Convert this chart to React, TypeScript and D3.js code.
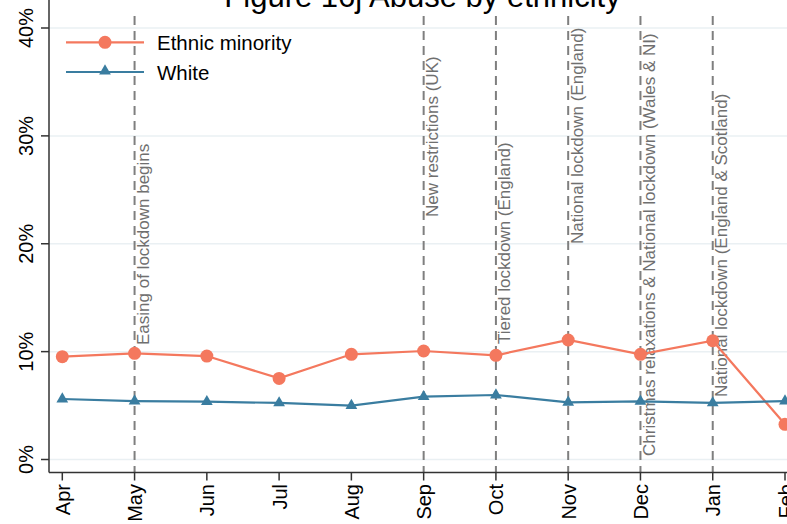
import React from "react";
import * as d3 from "d3";

const months = ["Apr", "May", "Jun", "Jul", "Aug", "Sep", "Oct", "Nov", "Dec", "Jan", "Feb"];
const ethnicMinority = [9.53, 9.84, 9.59, 7.52, 9.75, 10.06, 9.66, 11.08, 9.75, 11.01, 3.26];
const white = [5.61, 5.42, 5.36, 5.24, 4.99, 5.82, 5.98, 5.3, 5.39, 5.24, 5.42];
const yTicks = [0, 10, 20, 30, 40];
const events = [
  { month: "May", label: "Easing of lockdown begins" },
  { month: "Sep", label: "New restrictions (UK)" },
  { month: "Oct", label: "Tiered lockdown (England)" },
  { month: "Nov", label: "National lockdown (England)" },
  { month: "Dec", label: "Christmas relaxations & National lockdown (Wales & NI)" },
  { month: "Jan", label: "National lockdown (England & Scotland)" },
];
const eventBottoms = [345, 217, 344, 244, 456, 397];

const W = 787;
const H = 524;
const ORANGE = "#F4785E";
const BLUE = "#3A7DA0";
const FONT = "Liberation Sans, Arial, sans-serif";

export default function App() {
  const x = d3.scalePoint<string>().domain(months).range([62.3, 785]);
  const y = d3.scaleLinear().domain([0, 40]).range([459.5, 28]);
  const line = d3
    .line<number>()
    .x((_, i) => x(months[i]) as number)
    .y((d) => y(d));
  const axisY = 472.5;
  const axisX = 49;
  const tri = d3.symbol().type(d3.symbolTriangle).size(60)();

  return (
    <svg width={W} height={H} style={{ position: "absolute", left: 0, top: 0, background: "#fff" }}>
      <rect x={0} y={0} width={W} height={H} fill="#fff" />
      <text x={422.5} y={7} textAnchor="middle" fontFamily={FONT} fontSize={31} fill="#000">
        Figure 16j Abuse by ethnicity
      </text>
      {yTicks.map((t) => (
        <line key={"g" + t} x1={axisX} x2={W} y1={y(t)} y2={y(t)} stroke="#EAF0F3" strokeWidth={1.5} />
      ))}
      {events.map((e, i) => {
        const ex = x(e.month) as number;
        return (
          <g key={e.month}>
            <line x1={ex} x2={ex} y1={16} y2={axisY} stroke="#7f7f7f" strokeWidth={2} strokeDasharray="9,6" />
            <text
              transform={`translate(${ex + 14.5},${eventBottoms[i]}) rotate(-90)`}
              fontFamily={FONT}
              fontSize={17}
              fill="#6f6f6f"
            >
              {e.label}
            </text>
          </g>
        );
      })}
      <line x1={axisX} x2={axisX} y1={0} y2={axisY} stroke="#333" strokeWidth={1.5} />
      <line x1={axisX} x2={W} y1={axisY} y2={axisY} stroke="#333" strokeWidth={1.5} />
      {yTicks.map((t) => (
        <g key={"t" + t}>
          <line x1={axisX - 8} x2={axisX} y1={y(t)} y2={y(t)} stroke="#333" strokeWidth={1.5} />
          <text
            transform={`translate(${33},${y(t)}) rotate(-90)`}
            textAnchor="middle"
            fontFamily={FONT}
            fontSize={20}
            fill="#000"
          >
            {t}%
          </text>
        </g>
      ))}
      {months.map((m) => (
        <g key={"x" + m}>
          <line x1={x(m)} x2={x(m)} y1={axisY} y2={axisY + 8} stroke="#333" strokeWidth={1.5} />
          <text
            transform={`translate(${(x(m) as number) + 7.5},${484}) rotate(-90)`}
            textAnchor="end"
            fontFamily={FONT}
            fontSize={20}
            fill="#000"
          >
            {m}
          </text>
        </g>
      ))}
      <path d={line(ethnicMinority) || ""} fill="none" stroke={ORANGE} strokeWidth={2.2} />
      <path d={line(white) || ""} fill="none" stroke={BLUE} strokeWidth={2.2} />
      {ethnicMinority.map((v, i) => (
        <circle key={"e" + i} cx={x(months[i])} cy={y(v)} r={6.5} fill={ORANGE} />
      ))}
      {white.map((v, i) => (
        <path key={"w" + i} d={tri || ""} transform={`translate(${x(months[i])},${y(v)})`} fill={BLUE} />
      ))}
      <g>
        <line x1={66} x2={144} y1={42.3} y2={42.3} stroke={ORANGE} strokeWidth={2.2} />
        <circle cx={105} cy={42.3} r={6.5} fill={ORANGE} />
        <text x={157} y={49.5} fontFamily={FONT} fontSize={20.5} fill="#000">
          Ethnic minority
        </text>
        <line x1={66} x2={144} y1={72} y2={72} stroke={BLUE} strokeWidth={2.2} />
        <path d={tri || ""} transform={`translate(105,71)`} fill={BLUE} />
        <text x={157} y={79.5} fontFamily={FONT} fontSize={20.5} fill="#000">
          White
        </text>
      </g>
    </svg>
  );
}
